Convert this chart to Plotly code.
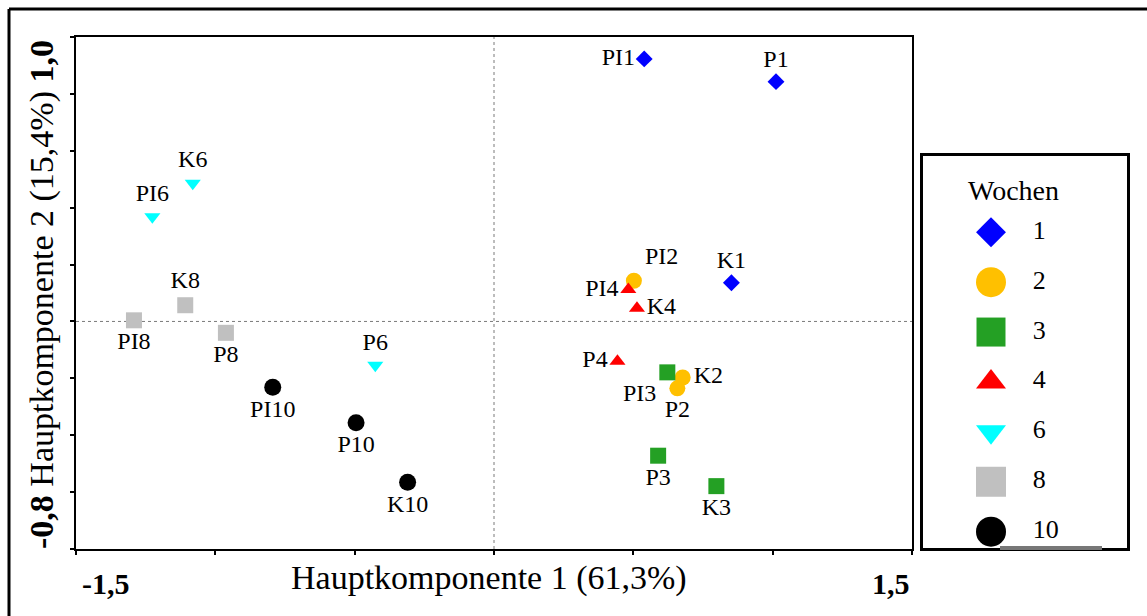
import plotly.graph_objects as go

# ---------------- data ----------------
labels = ["PI1", "P1", "K1", "PI2", "K2", "P2", "PI3", "P3", "K3",
          "PI4", "K4", "P4", "K6", "PI6", "P6", "PI8", "K8", "P8",
          "PI10", "P10", "K10"]
week = [1, 1, 1, 2, 2, 2, 3, 3, 3, 4, 4, 4, 6, 6, 6, 8, 8, 8, 10, 10, 10]
pc1 = [0.539, 1.012, 0.852, 0.502, 0.677, 0.658, 0.622, 0.589, 0.798,
       0.482, 0.513, 0.443, -1.081, -1.226, -0.426, -1.292, -1.108, -0.962,
       -0.794, -0.495, -0.310]
pc2 = [0.923, 0.843, 0.136, 0.143, -0.197, -0.235, -0.179, -0.472, -0.579,
       0.112, 0.046, -0.140, 0.486, 0.368, -0.154, 0.004, 0.057, -0.040,
       -0.231, -0.356, -0.565]
weeks = [1, 2, 3, 4, 6, 8, 10]

x_title = "Hauptkomponente 1 (61,3%)"
y_title = "<b>-0,8</b> Hauptkomponente 2 (15,4%) <b>1,0</b>"
x_tick_left = "-1,5"
x_tick_right = "1,5"
legend_title = "Wochen"

# ---------------- styles ----------------
style = {
    1: dict(symbol="diamond", color="#0000FF", size=13, lsize=23),
    2: dict(symbol="circle", color="#FFC000", size=16, lsize=30),
    3: dict(symbol="square", color="#24A024", size=16, lsize=29),
    4: dict(symbol="triangle-up", color="#FF0000", size=14, lsize=26),
    6: dict(symbol="triangle-down", color="#00FFFF", size=14, lsize=26),
    8: dict(symbol="square", color="#C0C0C0", size=16, lsize=30),
    10: dict(symbol="circle", color="#000000", size=17, lsize=30),
}
text_pos = {
    "PI1": "middle left", "P1": "top center", "K1": "top center",
    "PI2": "top right", "K2": "middle right", "P2": "bottom center",
    "PI3": "bottom left", "P3": "bottom center", "K3": "bottom center",
    "PI4": "middle left", "K4": "middle right", "P4": "middle left",
    "K6": "top center", "PI6": "top center", "P6": "top center",
    "PI8": "bottom center", "K8": "top center", "P8": "bottom center",
    "PI10": "bottom center", "P10": "bottom center", "K10": "bottom center",
}

FONT = "Liberation Serif, Times New Roman, serif"
W, H = 1147, 616
ML, MR, MT, MB = 76, 20, 37, 67
PW = W - ML - MR
MAIN_RIGHT = 836 / PW          # main plot domain right edge
LEG_X0 = (923 - ML) / PW
LEG_Y1 = (549 - 156) / 512

fig = go.Figure()

for w in weeks:
    idx = [i for i, v in enumerate(week) if v == w]
    s = style[w]
    fig.add_trace(go.Scatter(
        x=[pc1[i] for i in idx], y=[pc2[i] for i in idx],
        text=[labels[i] for i in idx],
        textposition=[text_pos[labels[i]] for i in idx],
        mode="markers+text",
        marker=dict(symbol=s["symbol"], color=s["color"], size=s["size"],
                    opacity=1, line=dict(width=0)),
        textfont=dict(family=FONT, size=24, color="black"),
        xaxis="x", yaxis="y", showlegend=False, hoverinfo="skip",
    ))

# custom legend (markers through its own axes)
leg_y = list(range(len(weeks)))
fig.add_trace(go.Scatter(
    x=[0] * len(weeks), y=leg_y, mode="markers",
    marker=dict(symbol=[style[w]["symbol"] for w in weeks],
                color=[style[w]["color"] for w in weeks],
                size=[style[w]["lsize"] for w in weeks],
                opacity=1, line=dict(width=0)),
    xaxis="x2", yaxis="y2", showlegend=False, hoverinfo="skip",
))
fig.add_trace(go.Scatter(
    x=[0.85] * len(weeks), y=leg_y, mode="text",
    text=[str(w) for w in weeks], textposition="middle right",
    textfont=dict(family=FONT, size=26, color="black"),
    xaxis="x2", yaxis="y2", showlegend=False, hoverinfo="skip",
))

axis_common = dict(showgrid=False, zeroline=False, showticklabels=False)

fig.update_layout(
    width=W, height=H,
    margin=dict(l=ML, r=MR, t=MT, b=MB),
    paper_bgcolor="white", plot_bgcolor="white",
    font=dict(family=FONT, color="black"),
    showlegend=False,
    xaxis=dict(domain=[0, MAIN_RIGHT], range=[-1.5, 1.5], tick0=-1.5, dtick=0.5,
               showline=True, mirror=True, linecolor="black", linewidth=2,
               ticks="outside", ticklen=4, tickwidth=2, tickcolor="black",
               anchor="y", **axis_common),
    yaxis=dict(domain=[0, 1], range=[-0.8, 1.0], tick0=-0.8, dtick=0.2,
               showline=True, mirror=True, linecolor="black", linewidth=2,
               ticks="outside", ticklen=4, tickwidth=2, tickcolor="black",
               anchor="x", **axis_common),
    xaxis3=dict(overlaying="x", domain=[0, MAIN_RIGHT], range=[-1.5, 1.5], tick0=-1.5, dtick=0.5,
                ticks="inside", ticklen=4, tickwidth=2, tickcolor="black",
                showline=False, anchor="y", **axis_common),
    yaxis3=dict(overlaying="y", domain=[0, 1], range=[-0.8, 1.0], tick0=-0.8, dtick=0.2,
                ticks="inside", ticklen=4, tickwidth=2, tickcolor="black",
                showline=False, anchor="x", **axis_common),
    xaxis2=dict(domain=[LEG_X0, 1.0], range=[-1.388, 2.776], anchor="y2",
                showline=True, mirror=True, linecolor="black", linewidth=3,
                ticks="", fixedrange=True, **axis_common),
    yaxis2=dict(domain=[0.002, LEG_Y1], range=[6.327, -1.528], anchor="x2",
                showline=True, mirror=True, linecolor="black", linewidth=3,
                ticks="", fixedrange=True, **axis_common),
    shapes=[
        dict(type="line", xref="x", yref="y domain", x0=0, x1=0, y0=0, y1=1,
             line=dict(color="#7a7a7a", width=1, dash="dot"), layer="below"),
        dict(type="line", xref="x domain", yref="y", x0=0, x1=1, y0=0, y1=0,
             line=dict(color="#7a7a7a", width=1, dash="dot"), layer="below"),
        # outer frame (top & left edges of the picture)
        dict(type="line", xref="paper", yref="paper",
             x0=(9 - ML) / PW, x1=(W - ML) / PW, y0=(549 - 9) / 512, y1=(549 - 9) / 512,
             line=dict(color="black", width=3)),
        dict(type="line", xref="paper", yref="paper",
             x0=(9 - ML) / PW, x1=(9 - ML) / PW, y0=(549 - 9) / 512, y1=(549 - H) / 512,
             line=dict(color="black", width=3)),
        dict(type="line", xref="paper", yref="paper",
             x0=(1000 - ML) / PW, x1=(1102 - ML) / PW, y0=(549 - 548) / 512, y1=(549 - 548) / 512,
             line=dict(color="#777777", width=4)),
    ],
    annotations=[
        dict(text=x_title, xref="paper", yref="paper", x=(489 - ML) / PW, y=(549 - 578) / 512,
             xanchor="center", yanchor="middle", showarrow=False,
             font=dict(family=FONT, size=34, color="black")),
        dict(text=y_title, xref="paper", yref="paper", x=(42 - ML) / PW, y=(549 - 295) / 512,
             xanchor="center", yanchor="middle", textangle=-90, showarrow=False,
             font=dict(family=FONT, size=34, color="black")),
        dict(text="<b>" + x_tick_left + "</b>", xref="paper", yref="paper",
             x=(80 - ML) / PW, y=(549 - 583) / 512, xanchor="left", yanchor="middle",
             showarrow=False, font=dict(family=FONT, size=30, color="black")),
        dict(text="<b>" + x_tick_right + "</b>", xref="paper", yref="paper",
             x=MAIN_RIGHT, y=(549 - 583) / 512, xanchor="right", yanchor="middle",
             showarrow=False, font=dict(family=FONT, size=30, color="black")),
        dict(text=legend_title, xref="paper", yref="paper",
             x=(1013 - ML) / PW, y=(549 - 190) / 512, xanchor="center", yanchor="middle",
             showarrow=False, font=dict(family=FONT, size=28, color="black")),
    ],
)

fig.write_html("out.html")
